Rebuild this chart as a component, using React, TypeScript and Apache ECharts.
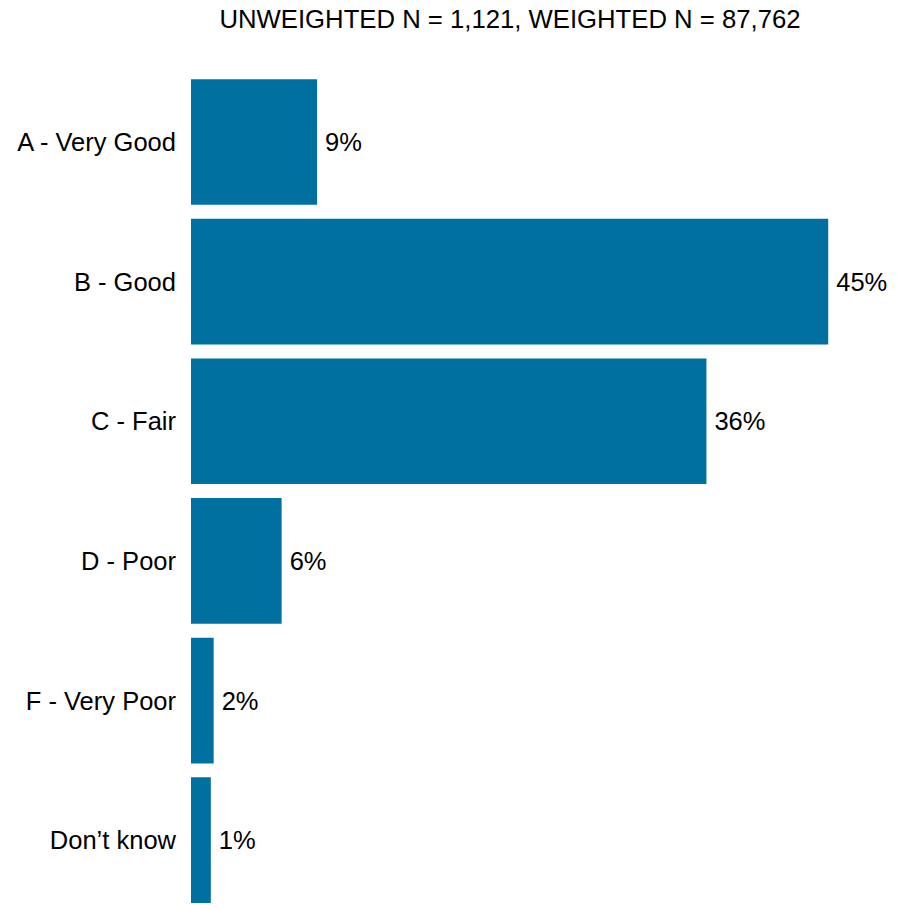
import React, { useEffect, useRef } from "react";
import * as echarts from "echarts";

const titleText = "UNWEIGHTED N = 1,121, WEIGHTED N = 87,762";
const categories = ["A - Very Good", "B - Good", "C - Fair", "D - Poor", "F - Very Poor", "Don\u2019t know"];
const values = [8.9, 45.0, 36.4, 6.4, 1.6, 1.4];

const FONT = "'Liberation Sans', Arial, sans-serif";

export default function App() {
  const ref = useRef<HTMLDivElement>(null);
  useEffect(() => {
    if (!ref.current) return;
    const chart = echarts.init(ref.current, undefined, { renderer: "svg" });
    chart.setOption({
      animation: false,
      backgroundColor: "#ffffff",
      title: {
        text: titleText,
        left: 505,
        top: 1,
        textAlign: "center",
        textStyle: { fontFamily: FONT, fontSize: 25.7, fontWeight: "normal", color: "#000000" },
      },
      grid: { left: 191, width: 679.7, top: 72.2, height: 844.4, containLabel: false },
      xAxis: {
        type: "value",
        min: 0,
        max: 48,
        show: false,
        splitLine: { show: false },
      },
      yAxis: {
        type: "category",
        data: categories,
        inverse: true,
        axisLine: { show: false },
        axisTick: { show: false },
        axisLabel: { fontFamily: FONT, fontSize: 25.5, color: "#000000", margin: 15 },
      },
      series: [
        {
          type: "bar",
          data: values,
          barCategoryGap: "10%",
          itemStyle: { color: "#0070a0" },
          label: {
            show: true,
            position: "right",
            distance: 8,
            fontFamily: FONT,
            fontSize: 25.5,
            color: "#000000",
            formatter: (p: any) => Math.round(p.value) + "%",
          },
        },
      ],
    });
    return () => chart.dispose();
  }, []);
  return (
    <div
      ref={ref}
      style={{ position: "fixed", left: 0, top: 0, width: 897, height: 910, background: "#fff" }}
    />
  );
}
